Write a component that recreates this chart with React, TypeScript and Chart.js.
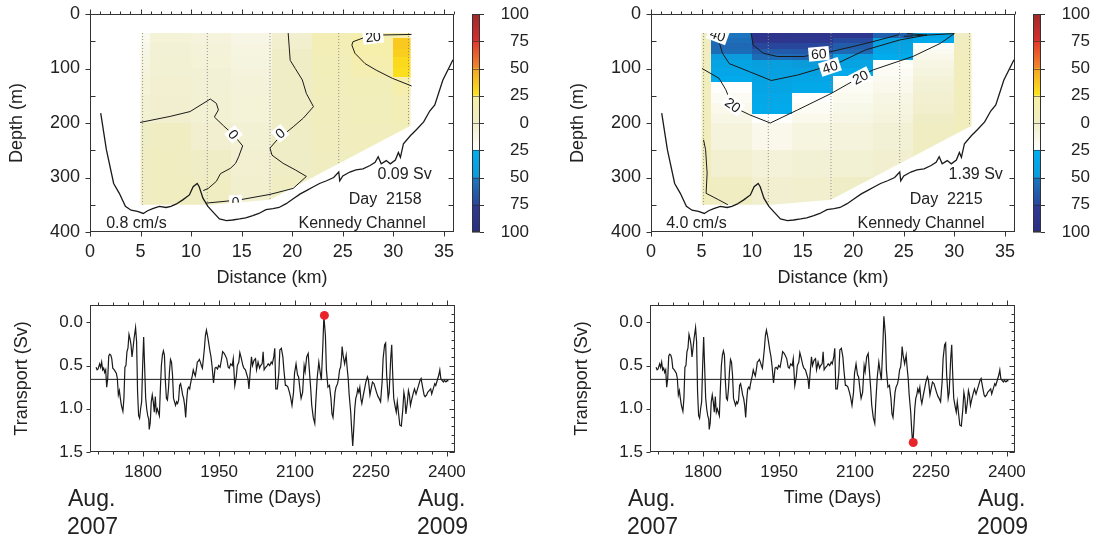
import React, { useEffect, useRef } from 'react';
import { Chart, registerables } from 'chart.js';

Chart.register(...registerables);

const FONT = '"Liberation Sans", Arial, Helvetica, sans-serif';
const INK = '#1a1a1a';
const TEXT = '#222222';
Chart.defaults.font.family = FONT;

// ---------------- Section (top panels) data ----------------
const bathymetryKm = [1.06, 1.62, 2.34, 2.9, 3.5, 4.06, 4.7, 5.27, 5.7, 6.2, 6.86, 7.52, 8.0, 8.5, 9.17, 9.83, 10.2, 10.6, 10.8, 11.17, 11.66, 12.2, 12.8, 13.5, 14.1, 14.8, 15.4, 16.1, 16.7, 17.4, 18.1, 18.7, 19.4, 20.1, 20.8, 21.4, 22.1, 22.7, 23.4, 24.1, 24.6, 24.7, 25.0, 25.7, 26.3, 27.0, 27.7, 28.2, 28.5, 28.8, 29.3, 29.7, 30.2, 30.5, 30.7, 31.0, 31.7, 32.3, 33.0, 33.6, 34.1, 34.9, 35.9];
const bathymetryDepth = [182, 249, 311, 329, 353, 360, 362, 366, 361, 357, 353, 355, 353, 349, 341, 332, 317, 311, 317, 338, 353, 364, 376, 379, 378, 376, 374, 370, 366, 359, 357, 355, 348, 339, 330, 324, 317, 311, 306, 300, 290, 306, 297, 290, 286, 284, 278, 272, 262, 275, 269, 275, 268, 254, 263, 238, 223, 212, 198, 178, 167, 121, 84];

const sectionOutlineKm = [5, 31.7, 31.7, 17.8, 12, 5];
const sectionOutlineDepth = [35, 35, 205, 341, 350, 350];
const sectionTop = 35;
const stationKm = [5.2, 11.6, 17.8, 24.6, 31.5];
const stationBottom = [350, 349, 341, 274, 206];

const cellColumnEdges = [5, 6, 10, 14, 18, 22, 26, 30, 32];

// Day 2158 (left)
const leftCellDepthEdges = [35, 45, 55, 65, 80, 100, 116, 150, 200, 250, 300, 355];
const leftCellValues = [
  [-18, -16, -14, -12, -10, -8, -6, -4, 1, 3, 3],
  [-6, -6, -5, -5, -4, -4, -3, -2, 2, 4, 4],
  [-8, -8, -7, -7, -6, -5, -5, -4, -2, 1, 3],
  [-12, -12, -11, -10, -9, -8, -7, -6, -4, -3, -1],
  [-2, -1, -1, 0, 0, 1, 1, 1, 1, 1, 2],
  [12, 12, 11, 10, 9, 8, 7, 6, 5, 4, 4],
  [15, 19, 20, 19, 17, 13, 9, 7, 6, 5, 5],
  [16, 36, 36, 34, 30, 28, 18, 12, 9, 8, 8],
];

// Day 2215 (right)
const rightCellDepthEdges = [35, 45, 55, 65, 75, 85, 100, 115, 125, 145, 165, 185, 200, 250, 300, 355];
const rightCellValues = [
  [3, 4, 5, 5, 5, 6, 6, 6, 6, 6, 6, 6, 6, 6, 6],
  [-52, -55, -58, -56, -49, -40, -35, -30, -24, -20, -16, -13, -8, -3, 2],
  [-88, -85, -75, -65, -56, -45, -42, -40, -38, -34, -30, -24, -15, -7, -2],
  [-85, -82, -75, -66, -58, -50, -42, -38, -33, -24, -20, -16, -10, -5, -1],
  [-82, -74, -64, -58, -47, -40, -32, -24, -20, -17, -14, -12, -8, -4, 0],
  [-62, -45, -40, -35, -28, -23, -20, -18, -15, -12, -10, -8, -5, -2, 1],
  [-38, -30, -22, -18, -15, -12, -9, -7, -5, -3, -1, 1, 3, 4, 5],
  [2, 4, 5, 5, 6, 6, 6, 6, 6, 6, 6, 6, 6, 6, 6],
];

// contours [km, depth]
const leftContourA = [[4.95, 199], [7.9, 188], [9.9, 179], [11.9, 156], [12.5, 164], [12.7, 176], [12.3, 189], [13.2, 205], [14.2, 222], [15.1, 242], [14.7, 262], [14.4, 274], [13.9, 283], [12.9, 293], [12.5, 307], [11.7, 320], [11.2, 324]];
const leftContourB = [[19.6, 35], [19.8, 85], [20.3, 100], [21.0, 121], [21.4, 146], [22.1, 170], [21.1, 191], [20.1, 207], [18.5, 231], [17.8, 246], [18.0, 259], [19.1, 274], [20.3, 286], [21.4, 298], [20.1, 320], [17.8, 331], [14.8, 341], [11.5, 347]];
const leftContour20 = [[31.8, 37.5], [28.9, 38.5], [27.0, 44], [26.0, 51], [25.9, 57], [26.2, 72], [27.2, 91], [28.3, 103], [29.9, 118], [31.8, 132]];
const leftLabels: [number, number, string, number][] = [[14.2, 221, '0', 50], [18.8, 219, '0', -40], [14.4, 345, '0', -3], [28.0, 41.5, '20', -6]];

const rightContour60 = [[9.9, 35], [10.1, 57], [11.1, 72], [12.5, 78], [15.1, 78], [17.8, 69], [19.9, 60], [21.9, 51], [24.4, 38.5], [24.6, 35]];
const rightContour40 = [[6.4, 35], [6.5, 40], [6.73, 51], [7.07, 72], [7.74, 91], [9.76, 106], [11.9, 122], [14.5, 112], [18.5, 90], [21.2, 66], [24.6, 47.6], [27.3, 38.6], [25.3, 36]];
const rightContour20 = [[25.0, 41], [30.0, 36], [28.6, 54], [25.9, 78], [21.9, 103], [17.8, 146], [14.5, 176], [11.8, 200], [9.76, 185], [8.08, 170], [7.4, 139], [6.73, 118], [5.05, 100]];
const rightContourSmall = [[5.2, 231], [5.4, 249], [5.55, 292], [5.45, 329], [6.7, 341], [7.6, 350]];
const rightLabels: [number, number, string, number][] = [[6.6, 38.6, '40', 20], [16.6, 73, '60', -5], [17.7, 97, '40', -18], [20.7, 116, '20', -27], [8.1, 167, '20', 35]];

const leftNotes: [number, number, string, CanvasTextAlign][] = [[33.8, 295, '0.09 Sv', 'right'], [32.8, 341, 'Day  2158', 'right'], [33.2, 385, 'Kennedy Channel', 'right'], [1.6, 385, '0.8 cm/s', 'left']];
const rightNotes: [number, number, string, CanvasTextAlign][] = [[34.8, 295, '1.39 Sv', 'right'], [32.8, 341, 'Day  2215', 'right'], [33.0, 385, 'Kennedy Channel', 'right'], [1.5, 385, '4.0 cm/s', 'left']];

const distanceTicks = [0, 5, 10, 15, 20, 25, 30, 35];
const distanceMinorTicks = Array.from({ length: 37 }, (_, i) => i);
const depthTicks = [0, 100, 200, 300, 400];
const depthMinorTicks = [50, 150, 250, 350];
const depthRightTicks = [50, 100, 150, 200, 250, 300, 350];

// ---------------- Colour bar ----------------
const colorbarBounds = [-100, -75, -50, -25, 0, 25, 50, 75, 100];
const colorbarBandLow = ['#2b2e83', '#28479c', '#0a9bdb', '#ffffff', '#efedc6', '#fce61c', '#f08a2a', '#d62f2d'];
const colorbarBandHigh = ['#2e3a94', '#1a78c0', '#00aeef', '#f0eecb', '#f8efa2', '#f5a422', '#e5362b', '#a1282b'];

// ---------------- Transport time series ----------------
const transportDays = [
  1707, 1709, 1711, 1714, 1716, 1718, 1720, 1722, 1724, 1726,
  1728, 1730, 1732, 1734, 1736, 1738, 1740, 1743, 1745, 1747,
  1749, 1751, 1753, 1755, 1757, 1760, 1762, 1764, 1766, 1768,
  1770, 1772, 1774, 1776, 1778, 1780, 1782, 1785, 1787, 1789,
  1791, 1793, 1795, 1797, 1799, 1801, 1803, 1805, 1807, 1809,
  1811, 1812, 1814, 1816, 1818, 1820, 1822, 1824, 1826, 1828,
  1830, 1832, 1834, 1836, 1838, 1840, 1842, 1844, 1846, 1848,
  1850, 1852, 1854, 1856, 1858, 1860, 1862, 1864, 1866, 1868,
  1870, 1872, 1874, 1876, 1878, 1880, 1882, 1884, 1886, 1888,
  1890, 1892, 1893, 1895, 1897, 1899, 1901, 1903, 1905, 1907,
  1909, 1911, 1913, 1915, 1917, 1919, 1921, 1923, 1925, 1927,
  1929, 1931, 1934, 1936, 1939, 1942, 1944, 1947, 1949, 1952,
  1955, 1957, 1960, 1962, 1965, 1968, 1970, 1973, 1976, 1978,
  1981, 1984, 1986, 1989, 1991, 1994, 1997, 1999, 2002, 2005,
  2007, 2009, 2011, 2014, 2016, 2019, 2022, 2024, 2027, 2030,
  2032, 2035, 2037, 2039, 2042, 2045, 2047, 2050, 2053, 2055,
  2058, 2060, 2062, 2065, 2068, 2070, 2073, 2076, 2078, 2081,
  2083, 2086, 2089, 2091, 2094, 2097, 2099, 2102, 2105, 2107,
  2110, 2112, 2115, 2118, 2120, 2123, 2126, 2128, 2131, 2133,
  2136, 2139, 2141, 2144, 2147, 2149, 2152, 2155, 2157, 2160,
  2162, 2165, 2168, 2171, 2173, 2175, 2177, 2179, 2181, 2184,
  2186, 2188, 2190, 2192, 2193, 2195, 2198, 2201, 2203, 2205,
  2207, 2210, 2212, 2214, 2216, 2218, 2220, 2222, 2224, 2226,
  2228, 2230, 2232, 2235, 2238, 2240, 2243, 2245, 2248, 2251,
  2253, 2256, 2259, 2261, 2264, 2266, 2269, 2272, 2274, 2277,
  2279, 2281, 2284, 2286, 2289, 2291, 2293, 2295, 2298, 2300,
  2302, 2305, 2307, 2310, 2313, 2315, 2317, 2319, 2322, 2324,
  2326, 2328, 2331, 2334, 2336, 2339, 2342, 2344, 2347, 2349,
  2352, 2355, 2357, 2360, 2362, 2365, 2368, 2370, 2373, 2376,
  2378, 2381, 2384, 2386, 2388, 2390, 2393, 2395, 2398, 2401,
  2403,
];
const transportValues = [
  0.52, 0.55, 0.54, 0.48, 0.52, 0.46, 0.55, 0.53, 0.58, 0.55,
  0.75, 0.65, 0.39, 0.37, 0.38, 0.42, 0.53, 0.55, 0.57, 0.59,
  0.65, 0.84, 0.79, 0.88, 0.96, 1.03, 0.88, 0.52, 0.50, 0.34,
  0.30, 0.14, 0.19, 0.26, 0.40, 0.30, 0.19, 0.06, 0.22, 0.81,
  1.08, 1.11, 1.00, 0.92, 0.50, 0.17, 0.53, 0.88, 1.00, 1.08,
  1.12, 1.24, 1.16, 0.92, 0.84, 0.92, 1.04, 0.86, 1.04, 1.00,
  1.04, 1.08, 0.77, 0.50, 0.38, 0.33, 0.38, 0.69, 0.88, 0.90,
  0.77, 0.57, 0.43, 0.46, 0.61, 0.88, 0.92, 0.96, 0.92, 0.94,
  0.90, 0.73, 0.71, 0.77, 0.84, 0.88, 0.96, 1.10, 0.90, 0.77,
  0.75, 0.77, 0.73, 0.67, 0.62, 0.55, 0.59, 0.62, 0.55, 0.46,
  0.45, 0.43, 0.46, 0.50, 0.53, 0.42, 0.30, 0.15, 0.09, 0.15,
  0.22, 0.30, 0.40, 0.50, 0.70, 0.53, 0.52, 0.54, 0.50, 0.52,
  0.42, 0.34, 0.36, 0.38, 0.42, 0.52, 0.53, 0.48, 0.50, 0.42,
  0.73, 0.63, 0.50, 0.46, 0.35, 0.42, 0.50, 0.53, 0.55, 0.61,
  0.65, 0.77, 0.61, 0.40, 0.50, 0.44, 0.42, 0.55, 0.46, 0.53,
  0.50, 0.48, 0.34, 0.55, 0.52, 0.50, 0.48, 0.50, 0.46, 0.48,
  0.40, 0.30, 0.77, 0.77, 0.59, 0.32, 0.30, 0.40, 0.55, 0.73,
  0.73, 0.75, 0.81, 0.86, 0.96, 0.81, 0.59, 0.48, 0.61, 0.63,
  0.79, 0.88, 0.81, 0.50, 0.57, 0.40, 0.36, 0.53, 0.77, 0.96,
  1.10, 1.17, 0.92, 0.63, 0.46, 0.55, 0.67, 0.26, -0.07, 0.15,
  0.55, 0.75, 0.73, 0.88, 1.06, 1.10, 0.96, 0.81, 0.75, 0.71,
  0.65, 0.55, 0.52, 0.40, 0.28, 0.38, 0.48, 0.38, 0.53, 0.65,
  0.84, 1.04, 1.25, 1.43, 1.23, 1.00, 0.88, 0.84, 0.77, 0.81,
  0.75, 0.88, 0.94, 0.84, 0.75, 0.69, 0.63, 0.67, 0.84, 0.75,
  0.69, 0.71, 0.77, 0.81, 0.86, 0.88, 0.92, 0.69, 0.42, 0.26,
  0.24, 0.61, 0.88, 0.81, 0.42, 0.26, 0.61, 0.88, 0.98, 1.04,
  0.92, 1.08, 1.19, 1.20, 1.00, 0.81, 0.88, 1.06, 0.92, 0.79,
  0.84, 0.96, 0.88, 0.81, 0.77, 0.83, 0.77, 0.73, 0.67, 0.65,
  0.75, 0.84, 0.86, 0.84, 0.81, 0.79, 0.77, 0.83, 0.77, 0.71,
  0.73, 0.67, 0.61, 0.55, 0.65, 0.67, 0.69, 0.67, 0.69, 0.67,
  0.68,
];
const transportMean = 0.66;
const leftHighlight = [2158, -0.08];
const rightHighlight = [2215, 1.39];
const timeMin = 1695;
const timeMax = 2416;
const timeTicks = [1800, 1950, 2100, 2250, 2400];
const timeMinorTicks = Array.from({ length: 24 }, (_, i) => 1710 + 30 * i);
const transportTicks = [0, 0.5, 1.0, 1.5];
const transportMinorTicks = Array.from({ length: 18 }, (_, i) => -0.2 + 0.1 * i);

// ---------------- helpers ----------------
function hexRgb(h: string) {
  const n = parseInt(h.slice(1), 16);
  return [(n >> 16) & 255, (n >> 8) & 255, n & 255];
}
function colorFor(v: number) {
  const b = colorbarBounds;
  let i = 0;
  while (i < b.length - 2 && v >= b[i + 1]) i++;
  const t = Math.min(1, Math.max(0, (v - b[i]) / (b[i + 1] - b[i])));
  const a = hexRgb(colorbarBandLow[i]);
  const c = hexRgb(colorbarBandHigh[i]);
  const m = a.map((x, k) => Math.round(x + (c[k] - x) * t));
  return `rgb(${m[0]},${m[1]},${m[2]})`;
}

type TickSpec = { side: 'top' | 'bottom' | 'left' | 'right'; values: number[]; len: number };

function framePlugin(specs: TickSpec[]) {
  return {
    id: 'frame',
    afterDraw(chart: any) {
      const { ctx, chartArea: a, scales } = chart;
      ctx.save();
      ctx.strokeStyle = '#333';
      ctx.lineWidth = 1;
      const L = Math.round(a.left) + 0.5, R = Math.round(a.right) - 0.5;
      const T = Math.round(a.top) + 0.5, B = Math.round(a.bottom) - 0.5;
      ctx.strokeRect(L, T, R - L, B - T);
      ctx.beginPath();
      for (const s of specs) {
        for (const v of s.values) {
          if (s.side === 'top' || s.side === 'bottom') {
            const p = Math.round(scales.x.getPixelForValue(v)) + 0.5;
            const y0 = s.side === 'bottom' ? B : T;
            const d = s.side === 'bottom' ? 1 : -1;
            ctx.moveTo(p, y0);
            ctx.lineTo(p, y0 + d * s.len);
          } else {
            const p = Math.round(scales.y.getPixelForValue(v)) + 0.5;
            const x0 = s.side === 'left' ? L : R;
            const d = s.side === 'left' ? -1 : 1;
            ctx.moveTo(x0, p);
            ctx.lineTo(x0 + d * s.len, p);
          }
        }
      }
      ctx.stroke();
      ctx.restore();
    },
  };
}

function outlinePath(chart: any) {
  const { ctx, scales } = chart;
  ctx.beginPath();
  sectionOutlineKm.forEach((k, i) => {
    const px = scales.x.getPixelForValue(k);
    const py = scales.y.getPixelForValue(sectionOutlineDepth[i]);
    if (i === 0) ctx.moveTo(px, py);
    else ctx.lineTo(px, py);
  });
  ctx.closePath();
}

function sectionPlugin(depthEdges: number[], values: number[][], labels: [number, number, string, number][], notes: [number, number, string, CanvasTextAlign][]) {
  return {
    id: 'section',
    beforeDatasetsDraw(chart: any) {
      const { ctx, scales } = chart;
      ctx.save();
      outlinePath(chart);
      ctx.clip();
      for (let c = 0; c < cellColumnEdges.length - 1; c++) {
        const x0 = Math.floor(scales.x.getPixelForValue(cellColumnEdges[c]));
        const x1 = Math.ceil(scales.x.getPixelForValue(cellColumnEdges[c + 1]));
        for (let r = 0; r < depthEdges.length - 1; r++) {
          const y0 = Math.floor(scales.y.getPixelForValue(depthEdges[r]));
          const y1 = Math.ceil(scales.y.getPixelForValue(depthEdges[r + 1]));
          ctx.fillStyle = colorFor(values[c][r]);
          ctx.fillRect(x0, y0, x1 - x0, y1 - y0);
        }
      }
      ctx.restore();
    },
    afterDatasetsDraw(chart: any) {
      const { ctx, scales } = chart;
      ctx.save();
      outlinePath(chart);
      ctx.clip();
      ctx.font = `14px ${FONT}`;
      ctx.textAlign = 'center';
      ctx.textBaseline = 'middle';
      for (const [k, d, t, ang] of labels) {
        const px = scales.x.getPixelForValue(k);
        const py = scales.y.getPixelForValue(d);
        ctx.save();
        ctx.translate(px, py);
        ctx.rotate((ang * Math.PI) / 180);
        const w = ctx.measureText(t).width + 5;
        ctx.fillStyle = '#ffffff';
        ctx.fillRect(-w / 2, -7, w, 14);
        ctx.fillStyle = INK;
        ctx.fillText(t, 0, 1);
        ctx.restore();
      }
      ctx.restore();
    },
    afterDraw(chart: any) {
      const { ctx, scales } = chart;
      ctx.save();
      ctx.font = `16px ${FONT}`;
      ctx.fillStyle = TEXT;
      ctx.textBaseline = 'middle';
      for (const [k, d, t, al] of notes) {
        ctx.textAlign = al;
        ctx.fillText(t, scales.x.getPixelForValue(k), scales.y.getPixelForValue(d));
      }
      ctx.restore();
    },
  };
}

const line = (pts: number[][], color = INK, width = 1, dash: number[] = []) => ({
  data: pts.map(([x, y]) => ({ x, y })),
  showLine: true,
  borderColor: color,
  borderWidth: width,
  borderDash: dash,
  pointRadius: 0,
  tension: 0,
});

function sectionConfig(contours: number[][][], depthEdges: number[], values: number[][], labels: any, notes: any) {
  const datasets: any[] = contours.map((c) => line(c, INK, 1));
  datasets.push(line(bathymetryKm.map((k, i) => [k, bathymetryDepth[i]]), INK, 1.3));
  stationKm.forEach((k, i) => datasets.push(line([[k, sectionTop], [k, stationBottom[i]]], '#8c8c8c', 1, [1, 2])));
  const tickFont = { family: FONT, size: 18 };
  return {
    type: 'scatter',
    data: { datasets },
    options: {
      animation: false,
      responsive: false,
      maintainAspectRatio: false,
      events: [],
      layout: { padding: { top: 24, right: 16, left: 0, bottom: 0 } },
      plugins: { legend: { display: false }, tooltip: { enabled: false } },
      scales: {
        x: {
          type: 'linear', min: 0, max: 36,
          afterBuildTicks: (s: any) => { s.ticks = distanceTicks.map((v) => ({ value: v })); },
          afterFit: (s: any) => { s.height = 58; },
          grid: { display: false, drawTicks: false },
          border: { display: false },
          ticks: { padding: 9, font: tickFont, color: TEXT, maxRotation: 0, callback: (v: any) => String(v) },
          title: { display: true, text: 'Distance (km)', font: tickFont, color: TEXT, padding: { top: 0, bottom: 1 } },
        },
        y: {
          type: 'linear', min: 0, max: 400, reverse: true,
          afterBuildTicks: (s: any) => { s.ticks = depthTicks.map((v) => ({ value: v })); },
          afterFit: (s: any) => { s.width = 90; },
          grid: { display: false, drawTicks: false },
          border: { display: false },
          ticks: { padding: 10, font: tickFont, color: TEXT, callback: (v: any) => String(v) },
          title: { display: true, text: 'Depth (m)', font: tickFont, color: TEXT, padding: { top: 6.7, bottom: 0 } },
        },
      },
    },
    plugins: [
      sectionPlugin(depthEdges, values, labels, notes),
      framePlugin([
        { side: 'bottom', values: distanceTicks, len: 5 },
        { side: 'top', values: distanceMinorTicks, len: 3 },
        { side: 'top', values: distanceTicks, len: 5 },
        { side: 'left', values: depthTicks, len: 5 },
        { side: 'left', values: depthMinorTicks, len: -5 },
        { side: 'right', values: depthRightTicks, len: -5 },
      ]),
    ],
  };
}

function colorbarConfig(rightPad: number) {
  return {
    type: 'bar',
    data: {
      labels: [''],
      datasets: colorbarBandLow.map((_, i) => ({
        data: [[colorbarBounds[i], colorbarBounds[i + 1]]],
        backgroundColor: (c: any) => {
          const ch = c.chart;
          const ys = ch.scales && ch.scales.y;
          if (!ys || !ch.chartArea) return colorbarBandLow[i];
          const g = ch.ctx.createLinearGradient(0, ys.getPixelForValue(colorbarBounds[i]), 0, ys.getPixelForValue(colorbarBounds[i + 1]));
          g.addColorStop(0, colorbarBandLow[i]);
          g.addColorStop(1, colorbarBandHigh[i]);
          return g;
        },
        borderWidth: 0,
        barPercentage: 1,
        categoryPercentage: 1,
        grouped: false,
      })),
    },
    options: {
      animation: false,
      responsive: false,
      maintainAspectRatio: false,
      events: [],
      layout: { padding: { top: 34, bottom: 38, left: 32, right: rightPad } },
      plugins: { legend: { display: false }, tooltip: { enabled: false } },
      scales: {
        x: { display: false },
        y: {
          position: 'right', min: -100, max: 100,
          afterBuildTicks: (s: any) => { s.ticks = colorbarBounds.map((v) => ({ value: v })); },
          afterFit: (s: any) => { s.width = 49; },
          grid: { display: false, drawTicks: false },
          border: { display: false },
          ticks: { padding: 0, crossAlign: 'far', font: { family: FONT, size: 17 }, color: TEXT, callback: (v: any) => String(Math.abs(v)) },
        },
      },
    },
    plugins: [
      {
        id: 'cbframe',
        afterDraw(chart: any) {
          const { ctx, chartArea: a, scales } = chart;
          ctx.save();
          ctx.lineWidth = 1;
          ctx.strokeStyle = 'rgba(40,40,40,0.55)';
          ctx.beginPath();
          for (const v of colorbarBounds) {
            const p = Math.round(scales.y.getPixelForValue(v)) + 0.5;
            ctx.moveTo(a.left, p);
            ctx.lineTo(a.right, p);
          }
          ctx.stroke();
          ctx.strokeStyle = '#333';
          ctx.strokeRect(Math.round(a.left) + 0.5, Math.round(a.top) + 0.5, Math.round(a.right - a.left) - 1, Math.round(a.bottom - a.top) - 1);
          ctx.beginPath();
          for (const v of colorbarBounds) {
            const p = Math.round(scales.y.getPixelForValue(v)) + 0.5;
            ctx.moveTo(a.right, p);
            ctx.lineTo(a.right + 4, p);
          }
          ctx.stroke();
          ctx.restore();
        },
      },
    ],
  };
}

function transportConfig(dot: number[]) {
  const tickFont = { family: FONT, size: 17 };
  const titleFont = { family: FONT, size: 18 };
  return {
    type: 'scatter',
    data: {
      datasets: [
        { data: [{ x: dot[0], y: dot[1] }], pointRadius: 4.5, pointBackgroundColor: '#e8252b', pointBorderWidth: 0, showLine: false },
        line(transportDays.map((d, i) => [d, transportValues[i]]), INK, 1.2),
        line([[timeMin, transportMean], [timeMax, transportMean]], INK, 1),
      ],
    },
    options: {
      animation: false,
      responsive: false,
      maintainAspectRatio: false,
      events: [],
      layout: { padding: { top: 20, right: 25, left: 0, bottom: 0 } },
      plugins: { legend: { display: false }, tooltip: { enabled: false } },
      scales: {
        x: {
          type: 'linear', min: timeMin, max: timeMax,
          afterBuildTicks: (s: any) => { s.ticks = timeTicks.map((v) => ({ value: v })); },
          afterFit: (s: any) => { s.height = 89; },
          grid: { display: false, drawTicks: false },
          border: { display: false },
          ticks: { padding: 10, font: tickFont, color: TEXT, maxRotation: 0, callback: (v: any) => String(v) },
          title: { display: true, text: 'Time (Days)', font: titleFont, color: TEXT, padding: { top: 0, bottom: 32 } },
        },
        y: {
          type: 'linear', min: -0.2, max: 1.5, reverse: true,
          afterBuildTicks: (s: any) => { s.ticks = transportTicks.map((v) => ({ value: v })); },
          afterFit: (s: any) => { s.width = 90; },
          grid: { display: false, drawTicks: false },
          border: { display: false },
          ticks: { padding: 7, font: tickFont, color: TEXT, callback: (v: any) => Number(v).toFixed(1) },
          title: { display: true, text: 'Transport (Sv)', font: titleFont, color: TEXT, padding: { top: 10.9, bottom: 0 } },
        },
      },
    },
    plugins: [
      framePlugin([
        { side: 'bottom', values: timeTicks, len: 5 },
        { side: 'bottom', values: timeMinorTicks, len: 3 },
        { side: 'top', values: timeTicks, len: 5 },
        { side: 'top', values: timeMinorTicks, len: 3 },
        { side: 'left', values: transportTicks, len: 4 },
        { side: 'right', values: transportMinorTicks, len: -3 },
        { side: 'right', values: transportTicks, len: -5 },
      ]),
      {
        id: 'dates',
        afterDraw(chart: any) {
          const { ctx } = chart;
          ctx.save();
          ctx.font = `23px ${FONT}`;
          ctx.fillStyle = TEXT;
          ctx.textBaseline = 'middle';
          ctx.textAlign = 'left';
          ctx.fillText('Aug.', 68, 215);
          ctx.fillText('2007', 67, 243);
          ctx.fillText('Aug.', 418, 215);
          ctx.fillText('2009', 417, 243);
          ctx.restore();
        },
      },
    ],
  };
}

function ChartCanvas({ left, top, width, height, build }: { left: number; top: number; width: number; height: number; build: () => any }) {
  const ref = useRef<HTMLCanvasElement | null>(null);
  useEffect(() => {
    if (!ref.current) return;
    const chart = new Chart(ref.current, build());
    return () => chart.destroy();
  }, []);
  return <canvas ref={ref} width={width} height={height} style={{ position: 'absolute', left, top, width, height }} />;
}

export default function App() {
  return (
    <div style={{ position: 'absolute', left: 0, top: 0, width: 1095, height: 541, background: '#ffffff', overflow: 'hidden' }}>
      <ChartCanvas left={0} top={-10} width={470} height={300}
        build={() => sectionConfig([leftContourA, leftContourB, leftContour20], leftCellDepthEdges, leftCellValues, leftLabels, leftNotes)} />
      <ChartCanvas left={561} top={-10} width={470} height={300}
        build={() => sectionConfig([rightContour60, rightContour40, rightContour20, rightContourSmall], rightCellDepthEdges, rightCellValues, rightLabels, rightNotes)} />
      <ChartCanvas left={440} top={-20} width={110} height={290} build={() => colorbarConfig(21)} />
      <ChartCanvas left={1001} top={-20} width={94} height={290} build={() => colorbarConfig(5)} />
      <ChartCanvas left={0} top={285} width={480} height={256} build={() => transportConfig(leftHighlight)} />
      <ChartCanvas left={560} top={285} width={480} height={256} build={() => transportConfig(rightHighlight)} />
    </div>
  );
}
